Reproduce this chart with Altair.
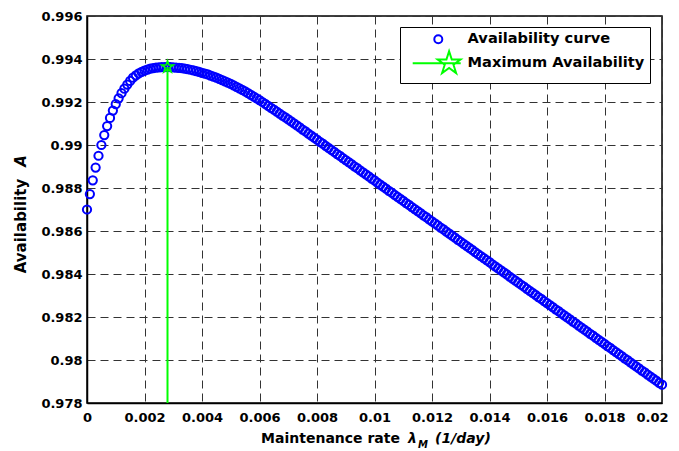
import altair as alt
import pandas as pd

# Maintenance rate (1/day) of each marker
lam = [
    0.0000, 0.0001, 0.0002, 0.0003, 0.0004, 0.0005, 0.0006, 0.0007, 0.0008, 0.0009,
    0.0010, 0.0011, 0.0012, 0.0013, 0.0014, 0.0015, 0.0016, 0.0017, 0.0018, 0.0019,
    0.0020, 0.0021, 0.0022, 0.0023, 0.0024, 0.0025, 0.0026, 0.0027, 0.0028, 0.0029,
    0.0030, 0.0031, 0.0032, 0.0033, 0.0034, 0.0035, 0.0036, 0.0037, 0.0038, 0.0039,
    0.0040, 0.0041, 0.0042, 0.0043, 0.0044, 0.0045, 0.0046, 0.0047, 0.0048, 0.0049,
    0.0050, 0.0051, 0.0052, 0.0053, 0.0054, 0.0055, 0.0056, 0.0057, 0.0058, 0.0059,
    0.0060, 0.0061, 0.0062, 0.0063, 0.0064, 0.0065, 0.0066, 0.0067, 0.0068, 0.0069,
    0.0070, 0.0071, 0.0072, 0.0073, 0.0074, 0.0075, 0.0076, 0.0077, 0.0078, 0.0079,
    0.0080, 0.0081, 0.0082, 0.0083, 0.0084, 0.0085, 0.0086, 0.0087, 0.0088, 0.0089,
    0.0090, 0.0091, 0.0092, 0.0093, 0.0094, 0.0095, 0.0096, 0.0097, 0.0098, 0.0099,
    0.0100, 0.0101, 0.0102, 0.0103, 0.0104, 0.0105, 0.0106, 0.0107, 0.0108, 0.0109,
    0.0110, 0.0111, 0.0112, 0.0113, 0.0114, 0.0115, 0.0116, 0.0117, 0.0118, 0.0119,
    0.0120, 0.0121, 0.0122, 0.0123, 0.0124, 0.0125, 0.0126, 0.0127, 0.0128, 0.0129,
    0.0130, 0.0131, 0.0132, 0.0133, 0.0134, 0.0135, 0.0136, 0.0137, 0.0138, 0.0139,
    0.0140, 0.0141, 0.0142, 0.0143, 0.0144, 0.0145, 0.0146, 0.0147, 0.0148, 0.0149,
    0.0150, 0.0151, 0.0152, 0.0153, 0.0154, 0.0155, 0.0156, 0.0157, 0.0158, 0.0159,
    0.0160, 0.0161, 0.0162, 0.0163, 0.0164, 0.0165, 0.0166, 0.0167, 0.0168, 0.0169,
    0.0170, 0.0171, 0.0172, 0.0173, 0.0174, 0.0175, 0.0176, 0.0177, 0.0178, 0.0179,
    0.0180, 0.0181, 0.0182, 0.0183, 0.0184, 0.0185, 0.0186, 0.0187, 0.0188, 0.0189,
    0.0190, 0.0191, 0.0192, 0.0193, 0.0194, 0.0195, 0.0196, 0.0197, 0.0198, 0.0199,
    0.0200,
]

# Availability
avail = [
    0.98700, 0.98772, 0.98836, 0.98895, 0.98950, 0.99000, 0.99046, 0.99088, 0.99126, 0.99160,
    0.99190, 0.99217, 0.99241, 0.99262, 0.99281, 0.99298, 0.99313, 0.99324, 0.99333, 0.99340,
    0.99346, 0.99351, 0.99355, 0.99358, 0.99360, 0.99361, 0.99362, 0.99362, 0.99363, 0.99362,
    0.99361, 0.99360, 0.99359, 0.99357, 0.99355, 0.99353, 0.99350, 0.99347, 0.99344, 0.99340,
    0.99336, 0.99332, 0.99328, 0.99323, 0.99318, 0.99313, 0.99308, 0.99302, 0.99296, 0.99290,
    0.99284, 0.99277, 0.99270, 0.99263, 0.99256, 0.99249, 0.99241, 0.99233, 0.99225, 0.99217,
    0.99209, 0.99200, 0.99191, 0.99182, 0.99173, 0.99164, 0.99155, 0.99146, 0.99137, 0.99128,
    0.99119, 0.99110, 0.99101, 0.99091, 0.99082, 0.99072, 0.99063, 0.99053, 0.99044, 0.99034,
    0.99025, 0.99015, 0.99006, 0.98996, 0.98987, 0.98977, 0.98968, 0.98958, 0.98949, 0.98939,
    0.98930, 0.98920, 0.98911, 0.98901, 0.98892, 0.98882, 0.98873, 0.98863, 0.98854, 0.98844,
    0.98835, 0.98825, 0.98816, 0.98806, 0.98797, 0.98787, 0.98778, 0.98768, 0.98759, 0.98749,
    0.98740, 0.98730, 0.98721, 0.98711, 0.98702, 0.98692, 0.98683, 0.98673, 0.98664, 0.98654,
    0.98645, 0.98635, 0.98626, 0.98616, 0.98607, 0.98597, 0.98588, 0.98578, 0.98569, 0.98559,
    0.98550, 0.98540, 0.98531, 0.98521, 0.98512, 0.98502, 0.98493, 0.98483, 0.98474, 0.98464,
    0.98455, 0.98445, 0.98436, 0.98426, 0.98417, 0.98407, 0.98398, 0.98388, 0.98379, 0.98369,
    0.98360, 0.98350, 0.98341, 0.98331, 0.98322, 0.98312, 0.98303, 0.98293, 0.98284, 0.98274,
    0.98265, 0.98255, 0.98246, 0.98236, 0.98227, 0.98217, 0.98208, 0.98198, 0.98189, 0.98179,
    0.98170, 0.98160, 0.98151, 0.98141, 0.98132, 0.98122, 0.98113, 0.98103, 0.98094, 0.98084,
    0.98075, 0.98065, 0.98056, 0.98046, 0.98037, 0.98027, 0.98018, 0.98008, 0.97999, 0.97989,
    0.97980, 0.97970, 0.97961, 0.97951, 0.97942, 0.97932, 0.97923, 0.97913, 0.97904, 0.97894,
    0.97885,
]

series_names = ["Availability curve", "Maximum Availability"]
x_ticks = [0, 0.002, 0.004, 0.006, 0.008, 0.01, 0.012, 0.014, 0.016, 0.018, 0.02]
y_ticks = [0.978, 0.98, 0.982, 0.984, 0.986, 0.988, 0.99, 0.992, 0.994, 0.996]
x_title_parts = ["Maintenance rate", "\u03bb", "M", "(1/day)"]
y_title_parts = ["Availability", "A"]

peak_i = avail.index(max(avail))
peak_lam = lam[peak_i]
peak_avail = avail[peak_i]

FONT = "DejaVu Sans"
BLUE = "#0000FF"
GREEN = "#00FF00"

STAR = ("M0,-1L0.2245,-0.309L0.951,-0.309L0.363,0.118L0.588,0.809L0,0.382"
        "L-0.588,0.809L-0.363,0.118L-0.951,-0.309L-0.2245,-0.309Z")
LINE_STAR = ("M-6.4,0L5.6,0M2.7,-3L3.37,-0.93L5.55,-0.93L3.79,0.35L4.46,2.43"
             "L2.7,1.15L0.94,2.43L1.61,0.35L-0.15,-0.93L2.03,-0.93Z")

df = pd.DataFrame({"lam": lam, "A": avail, "series": series_names[0]})
peak_df = pd.DataFrame({"lam": [peak_lam], "A": [peak_avail], "A0": [y_ticks[0]]})

xscale = alt.Scale(domain=[x_ticks[0], x_ticks[-1]], nice=False, zero=False)
yscale = alt.Scale(domain=[y_ticks[0], y_ticks[-1]], nice=False, zero=False)

axis_common = dict(
    title=None, format=".3~f", ticks=False, tickSize=0,
    labelFont=FONT, labelFontSize=13, labelFontWeight="bold", labelColor="black",
    grid=True, gridColor="#333333", gridDash=[8, 5], gridWidth=1, gridOpacity=1,
    domainColor="black", domainWidth=1.5,
)
xaxis = alt.Axis(
    values=x_ticks, labelPadding=8, labelFlush=False,
    labelOffset={"condition": {"test": "datum.value >= 0.0199", "value": -10}, "value": 0},
    **axis_common,
)
yaxis = alt.Axis(values=y_ticks, labelPadding=5, **axis_common)

points = alt.Chart(df).mark_point(
    filled=False, size=68, strokeWidth=2, opacity=1
).encode(
    x=alt.X("lam:Q", scale=xscale, axis=xaxis),
    y=alt.Y("A:Q", scale=yscale, axis=yaxis),
    color=alt.Color("series:N", scale=alt.Scale(domain=series_names, range=[BLUE, GREEN]),
                    legend=alt.Legend(title=None)),
    shape=alt.Shape("series:N", scale=alt.Scale(domain=series_names, range=["circle", LINE_STAR]),
                    legend=alt.Legend(title=None)),
)

rule = alt.Chart(peak_df).mark_rule(color=GREEN, strokeWidth=2).encode(
    x="lam:Q", y="A0:Q", y2="A:Q"
)

star = alt.Chart(peak_df).mark_point(
    filled=False, shape=STAR, size=154, color=GREEN, strokeWidth=1.6, opacity=1
).encode(x="lam:Q", y="A:Q")


def txt(s, x, y, size=14, style="normal", angle=0, align="left"):
    return alt.Chart(pd.DataFrame({"t": [s]})).mark_text(
        font=FONT, fontSize=size, fontWeight="bold", fontStyle=style, color="black",
        align=align, baseline="alphabetic", angle=angle
    ).encode(text="t:N", x=alt.value(x), y=alt.value(y))


titles = [
    txt(x_title_parts[0], 313, 427, align="right"),
    txt(x_title_parts[1], 321, 427, style="italic"),
    txt(x_title_parts[2], 331, 432, size=10, style="italic"),
    txt(x_title_parts[3], 348, 427, style="italic"),
    txt(y_title_parts[0], -61.5, 210, size=15, angle=270, align="center"),
    txt(y_title_parts[1], -61.5, 145, size=15, style="italic", angle=270, align="center"),
]

chart = alt.layer(points, rule, star, *titles).properties(
    width=575, height=387,
    padding={"left": 79, "top": 8, "right": 9, "bottom": 48},
    autosize=alt.AutoSizeParams(type="none"),
).configure_view(
    stroke="black", strokeWidth=1.5
).configure_legend(
    orient="none", legendX=313, legendY=11,
    fillColor="white", strokeColor="black", padding=5,
    labelFont=FONT, labelFontSize=14.6, labelFontWeight="bold", labelColor="black",
    symbolSize=64, symbolStrokeWidth=2, symbolOffset=26, labelOffset=22, rowPadding=-1,
    labelLimit=400,
)

chart.save("out.html", embed_options={"renderer": "svg", "actions": False})
